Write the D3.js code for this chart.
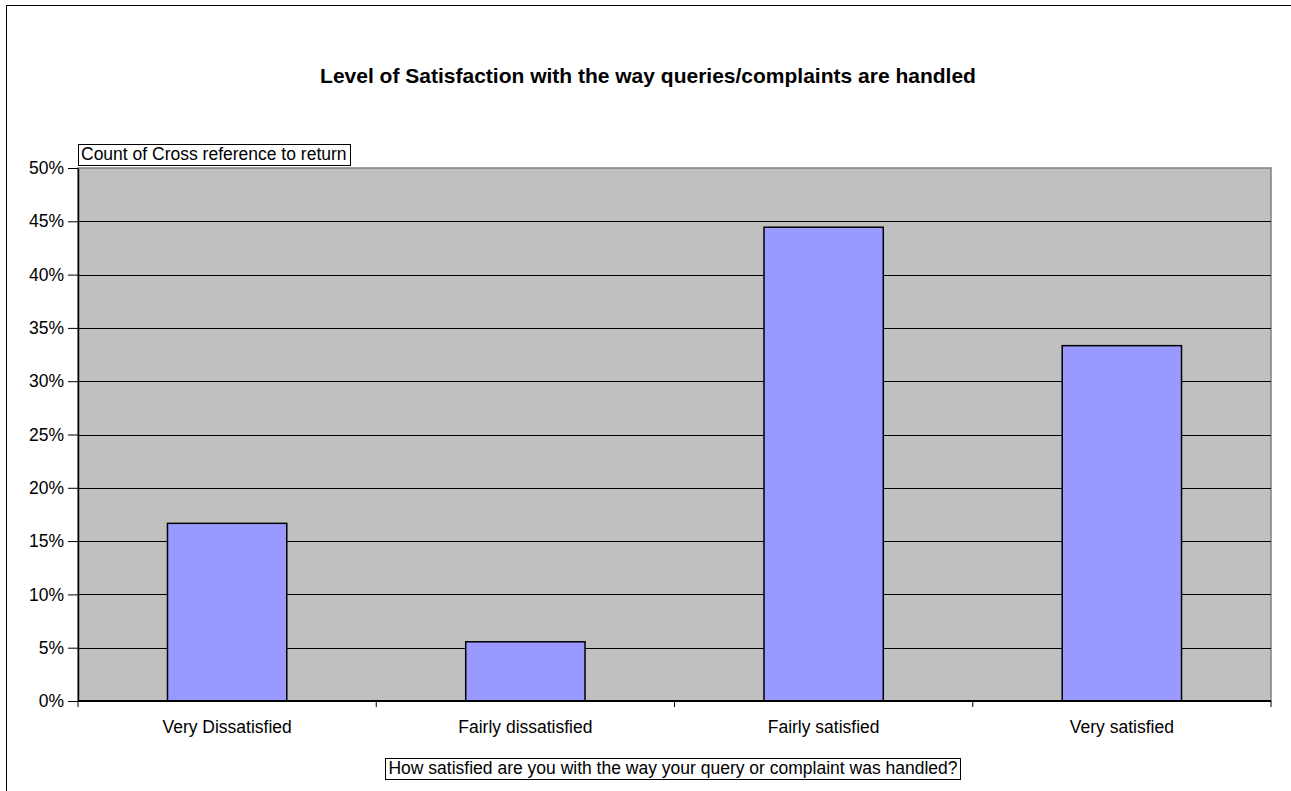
<!DOCTYPE html>
<html>
<head>
<meta charset="utf-8">
<script src="https://cdn.jsdelivr.net/npm/d3@7"></script>
<style>
  html, body { margin: 0; padding: 0; background: #fff; }
  svg { display: block; font-family: "Liberation Sans", Arial, sans-serif; }
</style>
</head>
<body>
<svg id="chart" width="1291" height="791"></svg>
<script>
const categories = ['Very Dissatisfied', 'Fairly dissatisfied', 'Fairly satisfied', 'Very satisfied'];
const shares = [3 / 18, 1 / 18, 8 / 18, 6 / 18];
const yTicks = [0, 0.05, 0.1, 0.15, 0.2, 0.25, 0.3, 0.35, 0.4, 0.45, 0.5];
const title = 'Level of Satisfaction with the way queries/complaints are handled';
const yTitle = 'Count of Cross reference to return';
const xTitle = 'How satisfied are you with the way your query or complaint was handled?';

const svg = d3.select('#chart');
const plot = { left: 78, right: 1271, top: 168, bottom: 701 };
const fs = 17.5;

// outer chart frame (right/bottom fall outside the window)
svg.append('rect')
  .attr('x', 6.5).attr('y', 5.5)
  .attr('width', 1300).attr('height', 800)
  .attr('fill', 'none').attr('stroke', '#000');

const x = d3.scaleBand()
  .domain(categories)
  .range([plot.left, plot.right])
  .paddingInner(0.6)
  .paddingOuter(0.3);

const y = d3.scaleLinear()
  .domain([0, 0.5])
  .range([plot.bottom, plot.top]);

// plot background
svg.append('rect')
  .attr('x', plot.left).attr('y', plot.top)
  .attr('width', plot.right - plot.left).attr('height', plot.bottom - plot.top)
  .attr('fill', '#c0c0c0')
  .attr('stroke', '#808080').attr('stroke-width', 1.5);

// gridlines
svg.append('g')
  .selectAll('line')
  .data(yTicks.filter(d => d > 0 && d < 0.5))
  .join('line')
  .attr('x1', plot.left).attr('x2', plot.right)
  .attr('y1', d => Math.round(y(d)) + 0.5).attr('y2', d => Math.round(y(d)) + 0.5)
  .attr('stroke', '#000');

// bars
svg.append('g')
  .selectAll('rect')
  .data(categories)
  .join('rect')
  .attr('x', d => x(d))
  .attr('y', (d, i) => y(shares[i]))
  .attr('width', x.bandwidth())
  .attr('height', (d, i) => y(0) - y(shares[i]))
  .attr('fill', '#9999ff')
  .attr('stroke', '#000')
  .attr('stroke-width', 1.5);

// y axis
const yAxis = svg.append('g')
  .attr('transform', `translate(${plot.left},0)`)
  .call(d3.axisLeft(y).tickValues(yTicks).tickFormat(d3.format('.0%')).tickSize(10).tickSizeOuter(0));
yAxis.select('.domain').attr('stroke', '#000').attr('stroke-width', 1.5);
yAxis.selectAll('text')
  .attr('font-size', fs).attr('font-family', '"Liberation Sans", Arial, sans-serif')
  .attr('fill', '#000').attr('x', -14);

// x axis: ticks sit on category boundaries
const xAxis = svg.append('g')
  .attr('transform', `translate(0,${plot.bottom})`);
xAxis.append('line')
  .attr('x1', plot.left).attr('x2', plot.right)
  .attr('y1', 0).attr('y2', 0)
  .attr('stroke', '#000').attr('stroke-width', 2);
const step = x.step();
const bounds = d3.range(categories.length + 1).map(i => plot.left + i * step);
xAxis.selectAll('line.tk')
  .data(bounds)
  .join('line')
  .attr('class', 'tk')
  .attr('x1', d => d).attr('x2', d => d)
  .attr('y1', 0).attr('y2', 6)
  .attr('stroke', '#000');
xAxis.selectAll('text')
  .data(categories)
  .join('text')
  .attr('x', d => x(d) + x.bandwidth() / 2)
  .attr('y', 32)
  .attr('text-anchor', 'middle')
  .attr('font-size', fs)
  .text(d => d);

// title
svg.append('text')
  .attr('x', 648).attr('y', 83)
  .attr('text-anchor', 'middle')
  .attr('font-size', 21).attr('font-weight', 'bold')
  .text(title);

// boxed field labels
function boxLabel(txt, cx, top, anchorLeft) {
  const g = svg.append('g');
  const t = g.append('text')
    .attr('font-size', fs)
    .attr('y', top + 16)
    .text(txt);
  const w = t.node().getComputedTextLength();
  const x0 = anchorLeft ? cx : cx - (w + 6) / 2;
  t.attr('x', x0 + 3);
  g.insert('rect', 'text')
    .attr('x', Math.round(x0) + 0.5).attr('y', top + 0.5)
    .attr('width', Math.round(w + 6)).attr('height', 21)
    .attr('fill', '#fff').attr('stroke', '#000');
}
boxLabel(yTitle, 78, 144, true);
boxLabel(xTitle, 673, 758, false);
</script>
</body>
</html>
